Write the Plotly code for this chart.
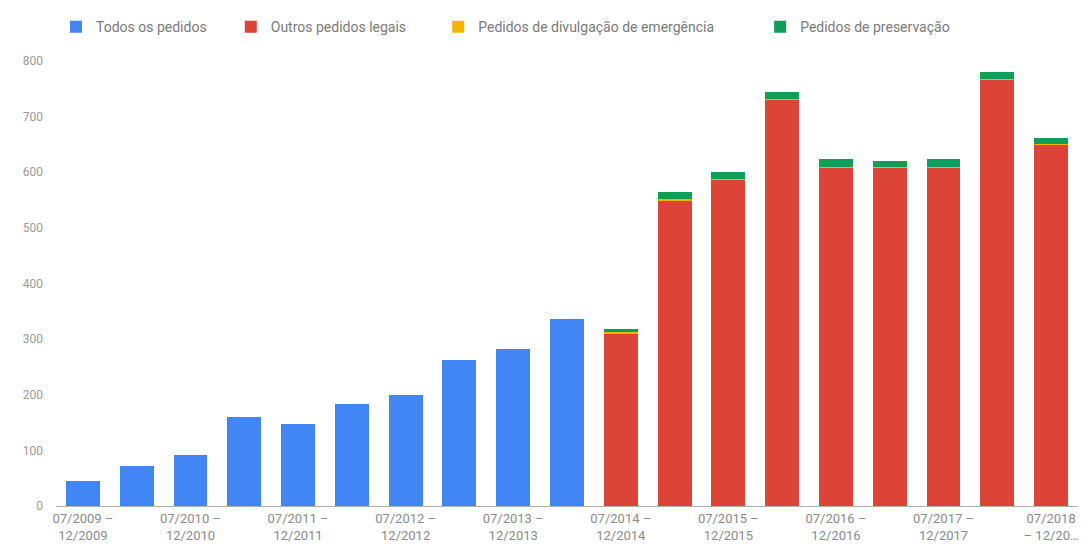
import plotly.graph_objects as go

periods = [
    "07/2009 – 12/2009", "01/2010 – 06/2010", "07/2010 – 12/2010", "01/2011 – 06/2011",
    "07/2011 – 12/2011", "01/2012 – 06/2012", "07/2012 – 12/2012", "01/2013 – 06/2013",
    "07/2013 – 12/2013", "01/2014 – 06/2014", "07/2014 – 12/2014", "01/2015 – 06/2015",
    "07/2015 – 12/2015", "01/2016 – 06/2016", "07/2016 – 12/2016", "01/2017 – 06/2017",
    "07/2017 – 12/2017", "01/2018 – 06/2018", "07/2018 – 12/2018",
]
todos = [45, 72, 91, 160, 147, 183, 200, 262, 282, 337, 0, 0, 0, 0, 0, 0, 0, 0, 0]
outros = [0, 0, 0, 0, 0, 0, 0, 0, 0, 0, 311, 550, 587, 731, 608, 609, 608, 766, 649]
emergencia = [0, 0, 0, 0, 0, 0, 0, 0, 0, 0, 1, 2, 1, 1, 1, 1, 1, 1, 1]
preservacao = [0, 0, 0, 0, 0, 0, 0, 0, 0, 0, 6, 12, 12, 13, 14, 11, 14, 14, 12]

tick_idx = [0, 2, 4, 6, 8, 10, 12, 14, 16, 18]
tick_text = [
    "07/2009 –<br>12/2009", "07/2010 –<br>12/2010", "07/2011 –<br>12/2011",
    "07/2012 –<br>12/2012", "07/2013 –<br>12/2013", "07/2014 –<br>12/2014",
    "07/2015 –<br>12/2015", "07/2016 –<br>12/2016", "07/2017 –<br>12/2017",
    "07/2018<br>– 12/20…",
]

series = [
    ("Todos os pedidos", todos, "#4285F4"),
    ("Outros pedidos legais", outros, "#DB4437"),
    ("Pedidos de divulgação de emergência", emergencia, "#F4B400"),
    ("Pedidos de preservação", preservacao, "#0F9D58"),
]
legend_ids = ["legend", "legend2", "legend3", "legend4"]
legend_x = [0.0, 0.171, 0.374, 0.689]

fig = go.Figure()
for (name, vals, color), lid in zip(series, legend_ids):
    fig.add_trace(go.Bar(x=periods, y=vals, name=name, legend=lid, showlegend=True,
                         marker=dict(color=color, line=dict(width=0))))

layout_legends = {}
for lid, lx in zip(legend_ids, legend_x):
    layout_legends[lid] = dict(orientation="h", x=lx, xanchor="left", y=1.076, yanchor="middle",
                               visible=True,
                               font=dict(size=14, color="#7a7a7a"), bgcolor="rgba(0,0,0,0)")

fig.update_layout(
    width=1086, height=546, showlegend=True,
    barmode="stack", bargap=0.37,
    margin=dict(l=56, r=8, t=61, b=40),
    paper_bgcolor="white", plot_bgcolor="white",
    font=dict(family="Roboto, Arial, sans-serif", size=12, color="#8a8a8a"),
    xaxis=dict(tickmode="array", tickvals=[periods[i] for i in tick_idx], ticktext=tick_text,
               showline=True, linecolor="#b0b0b0", linewidth=1, showgrid=False,
               tickfont=dict(size=13, color="#8a8a8a"), automargin=False, tickangle=0),
    yaxis=dict(range=[0, 800], dtick=100, showgrid=False, zeroline=False,
               tickfont=dict(size=12, color="#9a9a9a"), ticklabelstandoff=12, automargin=False),
    **layout_legends,
)

fig.write_html("out.html")
